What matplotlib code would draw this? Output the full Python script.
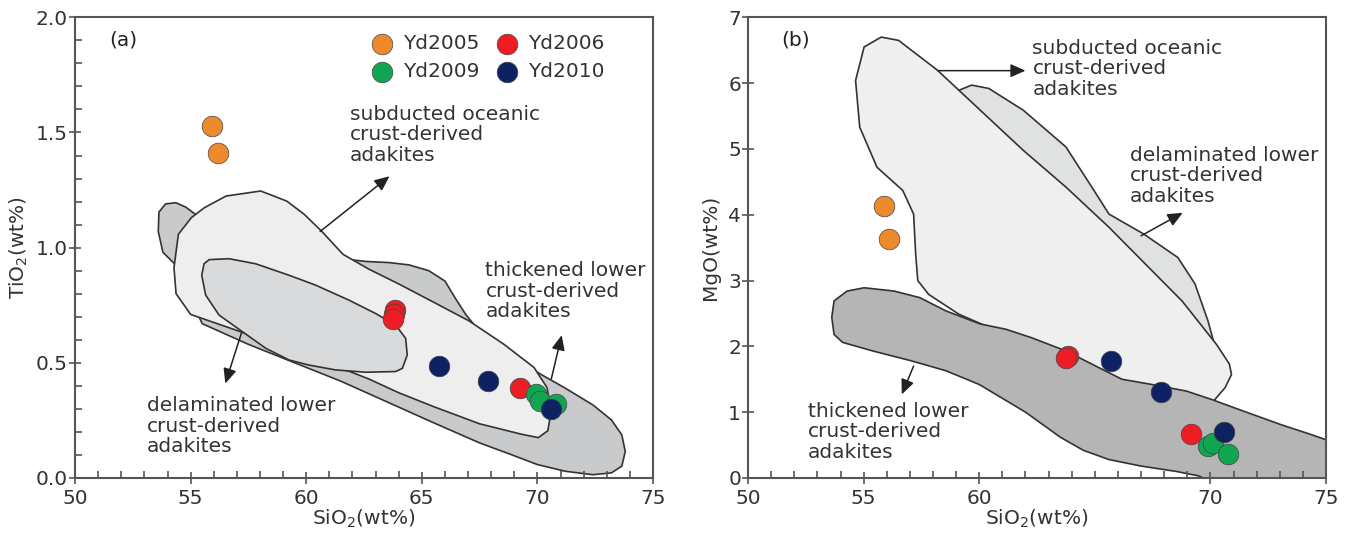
import numpy as np
import matplotlib
matplotlib.use("Agg")
import matplotlib.pyplot as plt
from matplotlib.patches import Polygon
from matplotlib.ticker import MultipleLocator

plt.rcParams['font.family'] = ['DejaVu Sans']

# ---- sample data (SiO2, TiO2, MgO in wt%) ----
groups = ['Yd2005', 'Yd2006', 'Yd2009', 'Yd2010']
colors = ['#ef8a2c', '#ee1d24', '#10a550', '#0d2262']

sio2_a = {'Yd2005': [55.93, 56.19],
          'Yd2006': [63.85, 63.80, 63.75, 69.23],
          'Yd2009': [69.94, 70.13, 70.79],
          'Yd2010': [65.76, 67.88, 70.60]}
tio2 = {'Yd2005': [1.53, 1.41],
        'Yd2006': [0.73, 0.71, 0.69, 0.39],
        'Yd2009': [0.365, 0.335, 0.32],
        'Yd2010': [0.485, 0.42, 0.30]}

sio2_b = {'Yd2005': [55.87, 56.10],
          'Yd2006': [63.85, 63.75, 69.18],
          'Yd2009': [69.89, 70.13, 70.78],
          'Yd2010': [65.71, 67.84, 70.59]}
mgo = {'Yd2005': [4.13, 3.63],
       'Yd2006': [1.85, 1.83, 0.675],
       'Yd2009': [0.48, 0.53, 0.37],
       'Yd2010': [1.78, 1.30, 0.70]}

# ---- field outlines, panel (a) ----
thick_a_x = [53.63, 53.92, 54.36, 54.79, 55.36, 57.0, 60.0, 61.7, 62.6, 63.6, 64.45, 65.3, 66.0,
             66.45, 66.9, 67.5, 68.2, 69.2, 70.2, 71.2, 72.4, 73.2, 73.65, 73.8, 73.65, 73.2,
             72.4, 71.2, 70.0, 68.9, 67.5, 65.5, 63.5, 61.5, 59.5, 57.5, 55.5, 54.3, 53.8, 53.6]
thick_a_y = [1.155, 1.19, 1.195, 1.176, 1.133, 1.0, 0.96, 0.95, 0.94, 0.935, 0.925, 0.90, 0.855,
             0.78, 0.71, 0.635, 0.577, 0.505, 0.447, 0.39, 0.317, 0.252, 0.187, 0.115, 0.051, 0.022,
             0.014, 0.029, 0.058, 0.10, 0.152, 0.24, 0.33, 0.42, 0.50, 0.58, 0.67, 0.93, 0.98, 1.07]

sub_a_x = [54.37, 54.28, 54.47, 55.03, 55.59, 56.53, 58.03, 59.16, 59.91, 60.66, 61.59, 62.72,
           64.03, 65.53, 67.04, 68.54, 69.85, 70.41, 70.60, 70.45, 70.04, 69.3, 67.5, 65.5,
           64.0, 62.7, 59.9, 57.3, 55.0]
sub_a_y = [0.80, 0.913, 1.058, 1.13, 1.173, 1.224, 1.246, 1.202, 1.145, 1.072, 0.971, 0.906,
           0.841, 0.762, 0.682, 0.581, 0.48, 0.393, 0.292, 0.205, 0.175, 0.19, 0.235, 0.31,
           0.37, 0.43, 0.54, 0.63, 0.71]

dela_a_x = [55.58, 55.80, 56.66, 57.81, 59.26, 60.41, 61.85, 63.0, 63.87, 64.30, 64.37, 64.16,
            63.87, 62.57, 61.27, 60.12, 59.26, 58.25, 57.24, 56.23, 55.65, 55.48]
dela_a_y = [0.93, 0.948, 0.952, 0.93, 0.88, 0.837, 0.772, 0.714, 0.664, 0.606, 0.534, 0.476,
            0.462, 0.459, 0.469, 0.49, 0.512, 0.563, 0.635, 0.707, 0.794, 0.88]

# ---- field outlines, panel (b) ----
dela_b_x = [59.11, 59.67, 60.41, 61.90, 63.75, 64.87, 65.61, 67.10, 68.59, 69.33, 69.89, 70.17,
            70.0, 66.0, 61.5, 60.04, 58.92, 58.74, 58.9]
dela_b_y = [5.89, 5.97, 5.92, 5.59, 5.03, 4.42, 4.01, 3.71, 3.35, 2.95, 2.39, 2.03,
            1.3, 1.4, 2.13, 2.39, 2.59, 2.79, 4.0]

sub_b_x = [54.65, 55.02, 55.76, 56.51, 58.18, 60.04, 61.90, 63.75, 65.61, 67.47, 68.77, 70.26,
           70.82, 70.91, 70.63, 70.26, 70.0, 66.0, 61.0, 59.11, 57.81, 57.34, 57.25, 57.16,
           56.69, 55.58, 54.83]
sub_b_y = [6.04, 6.55, 6.70, 6.65, 6.20, 5.59, 4.98, 4.42, 3.81, 3.15, 2.69, 2.03,
           1.73, 1.57, 1.37, 1.22, 1.1, 1.4, 2.2, 2.49, 2.79, 3.0, 3.40, 4.01,
           4.37, 4.72, 5.33]

thick_b_x = [53.72, 54.28, 55.02, 56.32, 57.43, 58.55, 60.04, 61.15, 62.27, 63.75, 64.87, 66.17,
             67.47, 68.96, 70.07, 71.0, 73.05, 74.35, 75.5, 75.5, 70.3, 69.5, 68.5, 67.0,
             65.6, 64.5, 63.5, 62.0, 60.0, 58.55, 57.06, 55.39, 54.09, 53.72, 53.62]
thick_b_y = [2.69, 2.84, 2.89, 2.84, 2.74, 2.54, 2.34, 2.26, 2.13, 1.93, 1.73, 1.50,
             1.42, 1.32, 1.19, 1.07, 0.81, 0.66, 0.52, -0.1, -0.1, 0.03, 0.10, 0.18,
             0.28, 0.42, 0.62, 1.0, 1.42, 1.63, 1.78, 1.93, 2.06, 2.18, 2.44]

edge = '#333333'
fs = 14.5


def field(ax, xs, ys, fc):
    ax.add_patch(Polygon(np.column_stack([xs, ys]), closed=True, fc=fc, ec=edge, lw=1.2, zorder=1))


def arrow(ax, start, end):
    ax.annotate('', xy=end, xytext=start,
                arrowprops=dict(arrowstyle='-|>,head_length=0.9,head_width=0.4',
                                color='#222222', lw=1.1, shrinkA=0, shrinkB=0), zorder=3)


def style(ax, ymax, ymajor, yminor):
    ax.set_xlim(50, 75)
    ax.set_ylim(0, ymax)
    ax.xaxis.set_major_locator(MultipleLocator(5))
    ax.xaxis.set_minor_locator(MultipleLocator(1))
    ax.yaxis.set_major_locator(MultipleLocator(ymajor))
    if yminor:
        ax.yaxis.set_minor_locator(MultipleLocator(yminor))
    ax.tick_params(which='major', direction='inout', length=8, width=1.2, color='#555555',
                   labelsize=fs, labelcolor='#333333', pad=1)
    ax.tick_params(axis='x', which='major', pad=4)
    ax.tick_params(which='minor', direction='in', length=5, width=1.2, color='#555555')
    for s in ax.spines.values():
        s.set_color('#555555')
        s.set_linewidth(1.5)
    ax.set_xlabel('SiO$_2$(wt%)', fontsize=fs, color='#333333', labelpad=0)


fig = plt.figure(figsize=(13.52, 5.34), dpi=100)
ax1 = fig.add_axes([0.0555, 0.105, 0.4275, 0.8625])
ax2 = fig.add_axes([0.5533, 0.105, 0.4275, 0.8625])

# panel (a)
field(ax1, thick_a_x, thick_a_y, '#c9cacb')
field(ax1, sub_a_x, sub_a_y, '#eeeeee')
field(ax1, dela_a_x, dela_a_y, '#d9dadb')
for g, c in zip(groups, colors):
    ax1.scatter(sio2_a[g], tio2[g], s=220, c=c, edgecolors='#444444', linewidths=0.5, zorder=4, label=g)
style(ax1, 2.0, 0.5, 0.1)
ax1.yaxis.set_major_formatter(matplotlib.ticker.FormatStrFormatter('%.1f'))
ax1.set_ylabel('TiO$_2$(wt%)', fontsize=fs, color='#333333', labelpad=4)
ax1.text(51.5, 1.90, '(a)', fontsize=fs, color='#222222', va='center')
ax1.text(61.9, 1.49, 'subducted oceanic\ncrust-derived\nadakites', fontsize=fs, color='#333333',
         va='center', ha='left', linespacing=1.1)
ax1.text(53.1, 0.225, 'delaminated lower\ncrust-derived\nadakites', fontsize=fs, color='#333333',
         va='center', ha='left', linespacing=1.1)
ax1.text(67.75, 0.81, 'thickened lower\ncrust-derived\nadakites', fontsize=fs, color='#333333',
         va='center', ha='left', linespacing=1.1)
arrow(ax1, (60.6, 1.07), (63.6, 1.31))
arrow(ax1, (57.2, 0.63), (56.5, 0.41))
arrow(ax1, (70.6, 0.43), (71.05, 0.62))
h, l = ax1.get_legend_handles_labels()
order = [0, 2, 1, 3]
ax1.legend([h[i] for i in order], [l[i] for i in order], ncol=2, frameon=False, fontsize=fs,
           loc='upper left', bbox_to_anchor=(0.475, 0.99), handletextpad=0.05, columnspacing=0.35,
           labelspacing=0.45, borderaxespad=0.2, labelcolor='#333333')

# panel (b)
field(ax2, dela_b_x, dela_b_y, '#e0e1e1')
field(ax2, sub_b_x, sub_b_y, '#efefef')
field(ax2, thick_b_x, thick_b_y, '#b5b5b5')
for g, c in zip(groups, colors):
    ax2.scatter(sio2_b[g], mgo[g], s=220, c=c, edgecolors='#444444', linewidths=0.5, zorder=4)
style(ax2, 7, 1, None)
ax2.set_xticks([50, 55, 60, 70, 75])
ax2.xaxis.set_minor_locator(MultipleLocator(1))
ax2.set_ylabel('MgO(wt%)', fontsize=fs, color='#333333', labelpad=6)
ax2.text(51.45, 6.65, '(b)', fontsize=fs, color='#222222', va='center')
ax2.text(62.3, 6.22, 'subducted oceanic\ncrust-derived\nadakites', fontsize=fs, color='#333333',
         va='center', ha='left', linespacing=1.1)
ax2.text(66.5, 4.59, 'delaminated lower\ncrust-derived\nadakites', fontsize=fs, color='#333333',
         va='center', ha='left', linespacing=1.1)
ax2.text(52.6, 0.70, 'thickened lower\ncrust-derived\nadakites', fontsize=fs, color='#333333',
         va='center', ha='left', linespacing=1.1)
arrow(ax2, (58.2, 6.19), (62.0, 6.19))
arrow(ax2, (67.0, 3.68), (68.8, 4.03))
arrow(ax2, (57.16, 1.70), (56.65, 1.27))

fig.savefig('out.png', dpi=100)
